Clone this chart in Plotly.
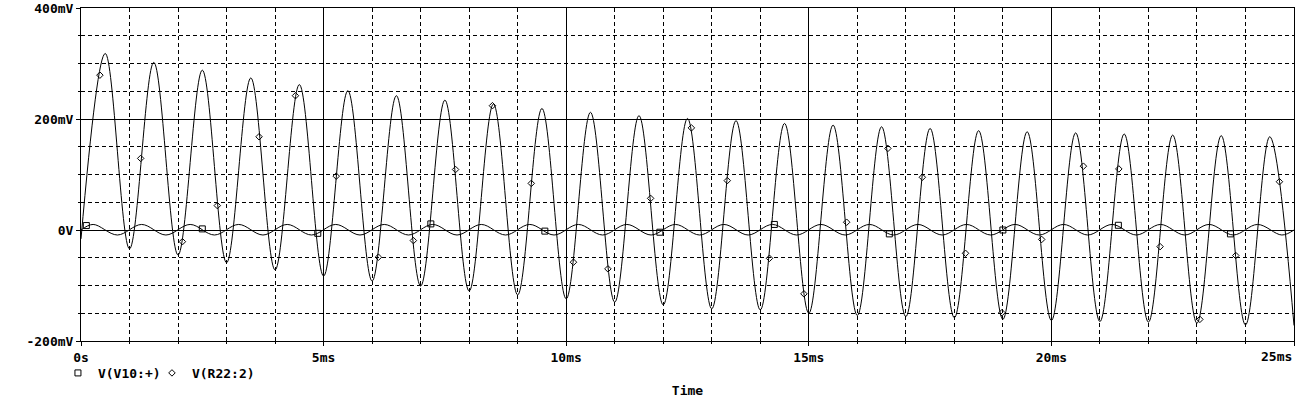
import plotly.graph_objects as go

# ---------------- data (time in ms, voltage in mV) ----------------
# V(R22:2): troughs and peaks
r22_trough_t = [0, 1, 2, 3, 4, 5, 6, 7, 8, 9, 10, 11, 12, 13, 14, 15, 16, 17, 18, 19, 20, 21, 22, 23, 24, 25]
r22_trough_v = [-16, -34, -45, -59, -72, -83, -92, -101, -110, -117, -124, -130, -135, -142, -144, -150,
                -154, -156, -158, -161, -163, -165, -166, -168, -171, -172]
r22_peak_t = [0.5, 1.5, 2.5, 3.5, 4.5, 5.5, 6.5, 7.5, 8.5, 9.5, 10.5, 11.5, 12.5, 13.5, 14.5, 15.5, 16.5,
              17.5, 18.5, 19.5, 20.5, 21.5, 22.5, 23.5, 24.5]
r22_peak_v = [318, 302, 288, 274, 262, 251, 242, 234, 227, 219, 212, 206, 201, 197, 192, 189, 186, 183,
              179, 177, 175, 173, 171, 170, 168]

# V(V10:+): start/end, peaks and troughs
v10_ends_t = [0, 25]
v10_ends_v = [0, 0]
v10_peak_t = [0.25, 1.25, 2.25, 3.25, 4.25, 5.25, 6.25, 7.25, 8.25, 9.25, 10.25, 11.25, 12.25, 13.25, 14.25,
              15.25, 16.25, 17.25, 18.25, 19.25, 20.25, 21.25, 22.25, 23.25, 24.25]
v10_peak_v = [10, 10, 10, 10, 10, 10, 10, 10, 10, 10, 10, 10, 10, 10, 10, 10, 10, 10, 10, 10, 10, 10, 10, 10, 10]
v10_trough_t = [0.75, 1.75, 2.75, 3.75, 4.75, 5.75, 6.75, 7.75, 8.75, 9.75, 10.75, 11.75, 12.75, 13.75, 14.75,
                15.75, 16.75, 17.75, 18.75, 19.75, 20.75, 21.75, 22.75, 23.75, 24.75]
v10_trough_v = [-9, -9, -9, -9, -9, -9, -9, -9, -9, -9, -9, -9, -9, -9, -9, -9, -9, -9, -9, -9, -9, -9, -9, -9, -9]

# marker positions along each trace
v10_mark_t = [0.11, 2.5, 4.88, 7.21, 9.56, 11.93, 14.29, 16.66, 19.0, 21.38, 23.69]
v10_mark_v = [8, 2, -6, 11, -2, -4, 10, -7, 0, 8.5, -7]
r22_mark_t = [0.39, 1.23, 2.09, 2.81, 3.67, 4.42, 5.26, 6.13, 6.85, 7.72, 8.48, 9.28, 10.15, 10.86, 11.74,
              12.58, 13.32, 14.19, 14.9, 15.78, 16.63, 17.34, 18.23, 18.98, 19.8, 20.66, 21.39, 22.24,
              23.06, 23.8, 24.7]
r22_mark_v = [279, 129, -21, 44, 168, 242, 97, -49, -19, 109, 224, 84, -58, -70, 57, 184, 89, -51, -115,
              14, 147, 95, -42, -149, -17, 115, 110, -30, -161, -46, 87]

x_tickvals = [0, 5, 10, 15, 20, 25]
x_ticktext = ["0s", "5ms", "10ms", "15ms", "20ms", ""]
y_tickvals = [-200, 0, 200, 400]
y_ticktext = ["-200mV", "0V", "200mV", "400mV"]

series_names = ["V(V10:+)", "V(R22:2)"]


def merged(*pairs):
    pts = []
    for ts, vs in pairs:
        pts.extend(zip(ts, vs))
    pts.sort()
    return [p[0] for p in pts], [p[1] for p in pts]


r22_t, r22_v = merged((r22_trough_t, r22_trough_v), (r22_peak_t, r22_peak_v))
v10_t, v10_v = merged((v10_ends_t, v10_ends_v), (v10_peak_t, v10_peak_v), (v10_trough_t, v10_trough_v))

FONT = dict(family="DejaVu Sans Mono", size=13, color="black", weight="bold")

fig = go.Figure()
fig.add_trace(go.Scatter(x=v10_t, y=v10_v, mode="lines", line=dict(color="black", width=1, shape="spline"),
                         showlegend=False, hoverinfo="skip"))
fig.add_trace(go.Scatter(x=r22_t, y=r22_v, mode="lines", line=dict(color="black", width=1, shape="spline"),
                         showlegend=False, hoverinfo="skip"))
fig.add_trace(go.Scatter(x=v10_mark_t, y=v10_mark_v, mode="markers", name=series_names[0],
                         marker=dict(symbol="square-open", size=6, color="black", line=dict(width=1)),
                         legend="legend"))
fig.add_trace(go.Scatter(x=r22_mark_t, y=r22_mark_v, mode="markers", name=series_names[1],
                         marker=dict(symbol="diamond-open", size=5, color="black", line=dict(width=1)),
                         legend="legend2"))

axis_common = dict(
    showline=True, linecolor="black", linewidth=1, mirror=True,
    showgrid=True, gridcolor="black", gridwidth=1, zeroline=False,
    ticks="outside", ticklen=4, tickcolor="black", tickwidth=1,
    tickfont=FONT, automargin=False, fixedrange=True,
)

fig.update_xaxes(range=[0, 25], tickmode="array", tickvals=x_tickvals, ticktext=x_ticktext,
                 minor=dict(dtick=1, tick0=0, showgrid=True, gridcolor="black", gridwidth=1,
                            griddash="4px,3px", ticks="outside", ticklen=2, tickcolor="black"),
                 title=dict(text="Time", font=FONT, standoff=22),
                 **axis_common)
fig.update_yaxes(range=[-200, 400], tickmode="array", tickvals=y_tickvals, ticktext=y_ticktext,
                 minor=dict(dtick=50, tick0=0, showgrid=True, gridcolor="black", gridwidth=1,
                            griddash="4px,3px", ticks="outside", ticklen=2, tickcolor="black"),
                 **axis_common)

fig.add_annotation(text="25ms", x=1, y=0, xref="paper", yref="paper", xanchor="right", yanchor="top",
                   showarrow=False, font=FONT, yshift=-6, xshift=0)

legend_common = dict(orientation="h", xanchor="left", y=-0.096, yanchor="middle",
                     font=FONT, bgcolor="rgba(0,0,0,0)", borderwidth=0, itemwidth=30)

fig.update_layout(
    template="none",
    width=1301, height=399,
    margin=dict(l=81, r=7, t=8, b=58, pad=0),
    paper_bgcolor="white", plot_bgcolor="white",
    font=FONT,
    showlegend=True,
    legend=dict(x=-0.019, **legend_common),
    legend2=dict(x=0.0585, **legend_common),
)

fig.write_html("out.html")
